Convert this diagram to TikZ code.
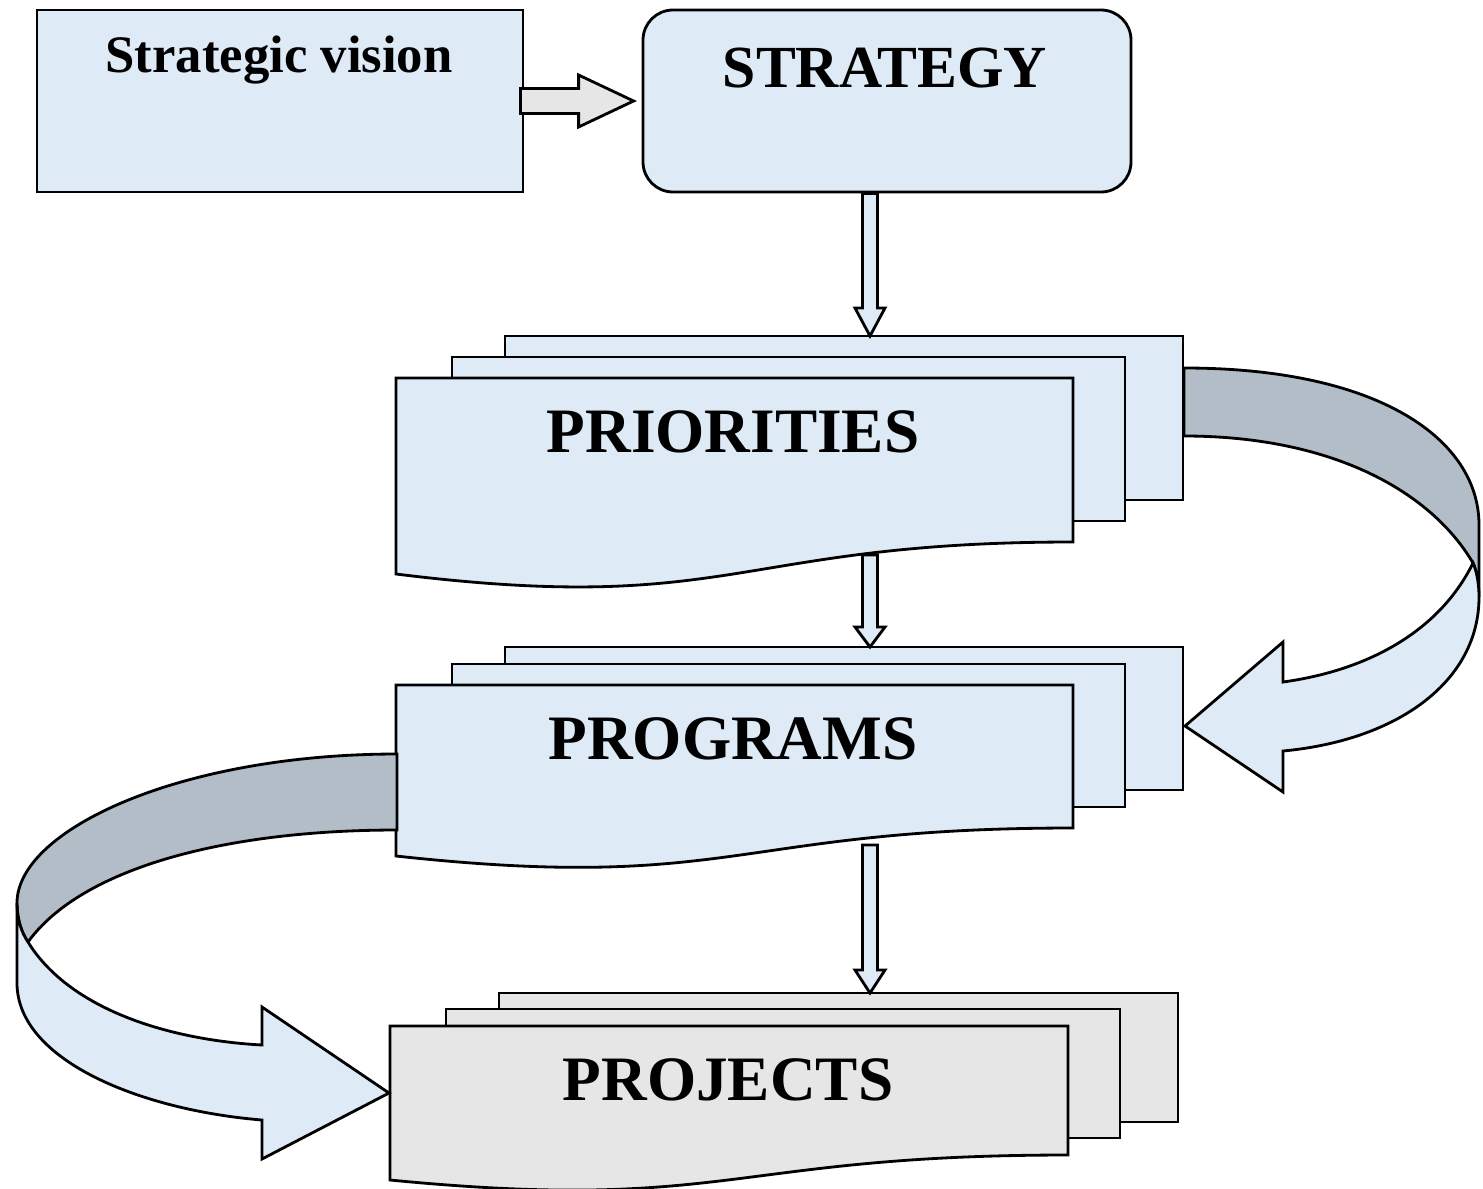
\documentclass[tikz,border=0pt]{standalone}
\usepackage{fontspec}
\setmainfont{Liberation Serif}
\usepackage{tikz}
\usetikzlibrary{calc}

\definecolor{paleblue}{HTML}{DEEAF6}
\definecolor{palegray}{HTML}{E6E6E6}
\definecolor{ribbongray}{HTML}{B3BDC7}

\tikzset{
  outline/.style={draw=black, line width=0.8pt, line join=miter},
  box/.style={outline, fill=paleblue, minimum width=48.6mm, minimum height=18.2mm, inner sep=0pt},
  title/.style={font=\bfseries\fontsize{18}{20}\selectfont, inner sep=0pt, anchor=base},
  blockarrow/.style={outline, fill=paleblue},
}

% stack of three pages: fill, left, top, right, right bottom, left bottom, back top, middle top
\newcommand{\docstack}[8]{%
  \draw[outline, fill=#1] ({#2+109},#7) rectangle ({#4+110},{#7+#5-#3});
  \draw[outline, fill=#1] ({#2+56},#8) rectangle ({#4+52},{#8+#5-#3});
  \draw[outline, fill=#1] (#2,#3) -- (#4,#3) -- (#4,#5)
    .. controls ({(#2+#4)/2},#5) and ({(#2+#4)/2},{#6+1.316*(#6-#5)}) .. (#2,#6) -- cycle;
}

% hollow down arrow between two coordinates
\newcommand{\blockdown}[3]{%
  \draw[blockarrow] let \p1=(#1), \p2=(#2) in
    (\x1-0.75mm,\y1) -- (\x1-0.75mm,\y2+#3) -- (\x1-1.5mm,\y2+#3) -- (\x1,\y2)
    -- (\x1+1.5mm,\y2+#3) -- (\x1+0.75mm,\y2+#3) -- (\x1+0.75mm,\y1) -- cycle;
}

\begin{document}
\begin{tikzpicture}[x=0.1mm, y=-0.1mm]
\useasboundingbox (0,0) rectangle (1483,1188);

\node[box] (vision) at (280,101) {};
\node[box, rounded corners=3mm, minimum width=48.8mm] (strategy) at (887,101) {};
\node[title, font=\bfseries\fontsize{15}{18}\selectfont] (vision text) at (279,72) {Strategic vision};
\node[title, font=\bfseries\fontsize{17}{20}\selectfont] (strategy text) at (885,88) {STRATEGY};

\draw[blockarrow, fill=palegray] let \p1=(vision.east), \p2=(strategy.west) in
  (\x1-0.4mm,\y1+1.25mm) -- (\x2-6.3mm,\y1+1.25mm) -- (\x2-6.3mm,\y1+2.6mm) -- (\x2-0.8mm,\y1)
  -- (\x2-6.3mm,\y1-2.6mm) -- (\x2-6.3mm,\y1-1.25mm) -- (\x1-0.4mm,\y1-1.25mm) -- cycle;

\docstack{paleblue}{396}{378}{1073}{542}{574}{336}{357}
\node[title] (priorities) at (733,452) {PRIORITIES};
\docstack{paleblue}{396}{685}{1073}{828}{856}{647}{664}
\node[title] (programs) at (733,759) {PROGRAMS};
\docstack{palegray}{390}{1026}{1068}{1155}{1180}{993}{1009}
\node[title] (projects) at (728,1100) {PROJECTS};

\coordinate (strategy foot) at ([xshift=-1.7mm]strategy.south);
\coordinate (priorities top) at (870,336);
\coordinate (priorities foot) at (870,555);
\coordinate (programs top) at (870,647);
\coordinate (programs foot) at (870,845);
\coordinate (projects top) at (870,993);

\blockdown{strategy foot}{priorities top}{2.8mm}
\blockdown{priorities foot}{programs top}{2.0mm}
\blockdown{programs foot}{projects top}{2.3mm}

% ribbon from priorities back to programs
\draw[outline, fill=ribbongray] (1184,368) .. controls (1380,368) and (1479,440) .. (1479,525)
  -- (1479,597) .. controls (1479,585) and (1477,572) .. (1473,563)
  .. controls (1430,490) and (1330,436) .. (1184,436) -- cycle;
\draw[outline, fill=paleblue] (1473,563) .. controls (1477,572) and (1479,585) .. (1479,597)
  .. controls (1479,680) and (1400,740) .. (1283,751) -- (1283,792) -- (1185,726)
  -- (1283,642) -- (1283,682) .. controls (1370,670) and (1440,630) .. (1473,563) -- cycle;

% ribbon from programs down to projects
\draw[outline, fill=ribbongray] (397,754) .. controls (180,754) and (17,830) .. (17,903)
  .. controls (17,918) and (21,932) .. (28,942)
  .. controls (80,870) and (220,830) .. (397,830) -- cycle;
\draw[outline, fill=paleblue] (17,903) -- (17,983) .. controls (17,1060) and (140,1110) .. (262,1120)
  -- (262,1159) -- (389,1093) -- (262,1007) -- (262,1045)
  .. controls (170,1040) and (70,1010) .. (28,942) .. controls (21,932) and (17,918) .. (17,903) -- cycle;
\end{tikzpicture}
\end{document}
